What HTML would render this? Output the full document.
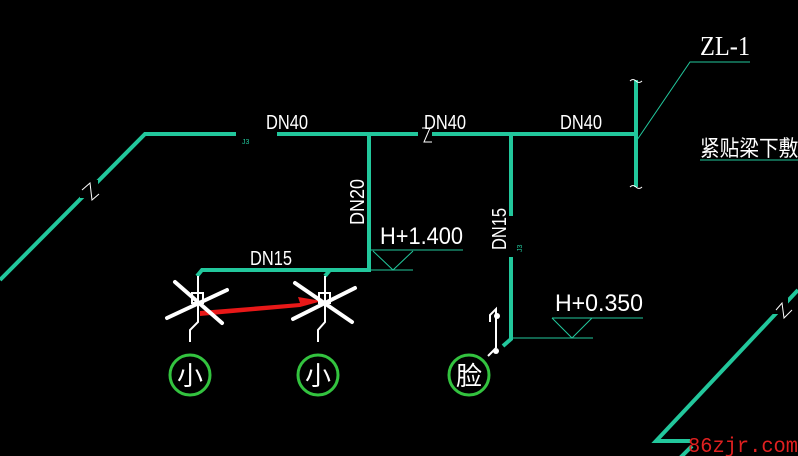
<!DOCTYPE html>
<html><head><meta charset="utf-8"><style>
html,body{margin:0;padding:0;background:#000;width:798px;height:456px;overflow:hidden}
</style></head><body>
<svg width="798" height="456" viewBox="0 0 798 456" xmlns="http://www.w3.org/2000/svg" font-family="Liberation Sans, Noto Sans CJK SC, sans-serif">
<rect width="798" height="456" fill="#000"/>
<g stroke="#22c79c" stroke-width="4" fill="none" stroke-linejoin="miter">
<polyline points="0,280 145,134 236,134"/>
<line x1="277" y1="134" x2="418" y2="134"/>
<line x1="432" y1="134" x2="636" y2="134"/>
<polyline points="369,134 369,270 202,270 197,276"/>
<line x1="330" y1="270" x2="325" y2="276"/>
<line x1="511" y1="134" x2="511" y2="216"/>
<polyline points="511,257 511,339 503,346"/>
<line x1="636" y1="80" x2="636" y2="187"/>
<polyline points="798,290 656,441 690,441"/>
<line x1="680" y1="458" x2="692" y2="446"/>
</g>
<rect x="80" y="180" width="18" height="18" fill="#000"/>
<rect x="772" y="298" width="16" height="16" fill="#000"/>
<g stroke="#fff" stroke-width="1" fill="none">
<polyline points="82,190 90,183 92,200 99,194"/>
<polyline points="776,310 782,303 784,318 792,310"/>
<polyline points="422,128 430,128 424,142 432,142"/>
<path d="M630,81 q3,-3 6,0 q3,3 6,0"/>
<path d="M630,187 q3,-3 6,0 q3,3 6,0"/>
</g>
<g stroke="#22c79c" stroke-width="1" fill="none">
<polyline points="637,140 690,62 750,62"/>
<line x1="700" y1="160" x2="798" y2="160"/>
<line x1="371" y1="250" x2="463" y2="250"/>
<polyline points="373,251 393,270 413,251"/>
<line x1="371" y1="270" x2="413" y2="270"/>
<line x1="552" y1="318" x2="643" y2="318"/>
<polyline points="552,318 572,338 592,318"/>
<line x1="513" y1="338" x2="593" y2="338"/>
</g>
<g fill="#fff" font-size="20">
<text x="266" y="129" textLength="42" lengthAdjust="spacingAndGlyphs">DN40</text>
<text x="424" y="129" textLength="42" lengthAdjust="spacingAndGlyphs">DN40</text>
<text x="560" y="129" textLength="42" lengthAdjust="spacingAndGlyphs">DN40</text>
<text x="250" y="265" textLength="42" lengthAdjust="spacingAndGlyphs">DN15</text>
<text x="700" y="55" font-size="27" textLength="50" lengthAdjust="spacingAndGlyphs" style="font-family:'Liberation Serif',serif">ZL-1</text>
<text x="380" y="244" font-size="24" textLength="83" lengthAdjust="spacingAndGlyphs">H+1.400</text>
<text x="555" y="311" font-size="24" textLength="88" lengthAdjust="spacingAndGlyphs">H+0.350</text>
<text x="700" y="156" font-size="22" textLength="118" lengthAdjust="spacingAndGlyphs">紧贴梁下敷设</text>
<text transform="translate(364,225) rotate(-90)" textLength="46" lengthAdjust="spacingAndGlyphs">DN20</text>
<text transform="translate(506,250) rotate(-90)" textLength="42" lengthAdjust="spacingAndGlyphs">DN15</text>
</g>
<g fill="#22c79c" font-size="7">
<text x="242" y="144">J3</text>
<text transform="translate(522,252) rotate(-90)">J3</text>
</g>
<polygon points="200,311 300,303 298,297 322,301 300,307 200,316" fill="#e81818"/>
<g stroke="#fff" stroke-width="4" stroke-linecap="round">
<line x1="175" y1="282" x2="222" y2="323"/><line x1="167" y1="318" x2="227" y2="290"/>
<line x1="295" y1="283" x2="352" y2="322"/><line x1="293" y1="319" x2="355" y2="288"/>
</g>
<g stroke="#fff" stroke-width="2" fill="none">
<polyline points="198,276 198,322 190,330 190,342"/>
<rect x="192" y="293" width="11" height="10"/>
<polyline points="325,276 325,322 318,330 318,342"/>
<rect x="319" y="293" width="11" height="10"/>
<polyline points="496,348 496,309 490,315 490,322"/>
<line x1="496" y1="348" x2="488" y2="356"/>
</g>
<circle cx="497" cy="316" r="3" fill="#fff"/><circle cx="496" cy="351" r="3" fill="#fff"/>
<g stroke="#33c33f" stroke-width="3" fill="none">
<circle cx="190" cy="375" r="20"/><circle cx="318" cy="375" r="20"/><circle cx="469" cy="375" r="20"/>
</g>
<g fill="#fff" font-size="26" text-anchor="middle">
<text x="190" y="385">小</text><text x="318" y="385">小</text><text x="469" y="385">脸</text>
</g>
<text x="688" y="452" fill="#e02020" font-size="21" style="font-family:'Liberation Mono',monospace" textLength="110" lengthAdjust="spacingAndGlyphs">86zjr.com</text>
</svg>
</body></html>
